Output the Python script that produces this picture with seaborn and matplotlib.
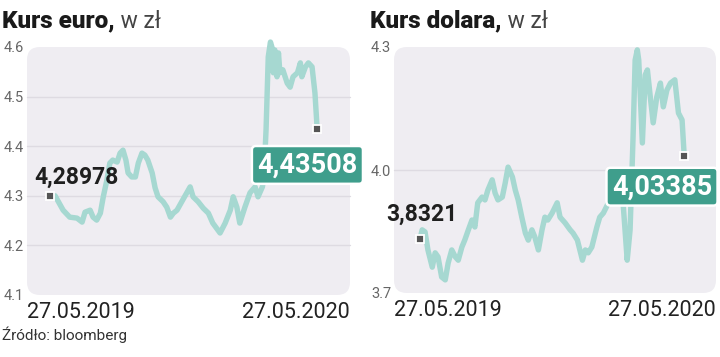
import matplotlib
matplotlib.use("Agg")
import matplotlib.pyplot as plt
from matplotlib.patches import FancyBboxPatch
from matplotlib import font_manager
import seaborn as sns

# ---------------- data ----------------
eur_day = [0, 7, 18, 27, 37, 44, 48, 55, 59, 64, 69, 73, 78, 82, 86, 92, 96, 100, 104, 107,
           112, 117, 121, 126, 130, 134, 140, 144, 148, 155, 160, 165, 169, 174, 182, 192, 196,
           203, 210, 217, 223, 233, 240, 247, 251, 256, 260, 267, 274, 281, 285, 291, 293, 296,
           299, 302, 304, 306, 308, 311, 313, 315, 319, 325, 329, 333, 339, 343, 345, 350, 354,
           359, 363, 366]
eur_rate = [4.300, 4.300, 4.271, 4.257, 4.255, 4.247, 4.267, 4.271, 4.257, 4.251, 4.265, 4.298,
            4.332, 4.366, 4.372, 4.368, 4.386, 4.392, 4.372, 4.346, 4.338, 4.338, 4.366, 4.386,
            4.382, 4.372, 4.346, 4.316, 4.298, 4.288, 4.277, 4.257, 4.265, 4.271, 4.292, 4.318,
            4.298, 4.288, 4.275, 4.265, 4.245, 4.225, 4.245, 4.271, 4.298, 4.277, 4.245, 4.277,
            4.306, 4.318, 4.298, 4.318, 4.336, 4.433, 4.580, 4.610, 4.600, 4.548, 4.594, 4.540,
            4.588, 4.548, 4.554, 4.527, 4.519, 4.540, 4.548, 4.568, 4.540, 4.560, 4.568, 4.560,
            4.507, 4.43508]

usd_day = [0, 3, 7, 11, 17, 21, 25, 30, 35, 39, 44, 49, 53, 58, 62, 67, 72, 76, 80, 86, 90, 94,
           100, 104, 108, 114, 118, 122, 128, 132, 136, 141, 146, 150, 155, 159, 164, 169, 173,
           177, 183, 190, 194, 201, 208, 212, 218, 225, 229, 233, 238, 245, 249, 254, 261, 266,
           273, 277, 281, 287, 291, 295, 298, 301, 303, 308, 312, 315, 319, 323, 328, 333, 337,
           342, 347, 353, 358, 363, 366]
usd_rate = [3.8321, 3.854, 3.849, 3.805, 3.763, 3.798, 3.788, 3.739, 3.732, 3.773, 3.805, 3.788,
            3.780, 3.812, 3.829, 3.854, 3.878, 3.861, 3.920, 3.934, 3.927, 3.951, 3.976, 3.944,
            3.927, 3.934, 3.968, 4.007, 3.983, 3.951, 3.927, 3.885, 3.846, 3.829, 3.854, 3.837,
            3.805, 3.854, 3.885, 3.878, 3.895, 3.920, 3.885, 3.871, 3.854, 3.846, 3.829, 3.780,
            3.805, 3.798, 3.812, 3.861, 3.885, 3.895, 3.920, 3.934, 3.951, 3.963, 3.927, 3.780,
            3.854, 4.073, 4.268, 4.293, 4.268, 4.066, 4.232, 4.244, 4.178, 4.115, 4.178, 4.212,
            4.154, 4.195, 4.212, 4.220, 4.139, 4.122, 4.03385]

eur_ticks = [4.1, 4.2, 4.3, 4.4, 4.5, 4.6]
usd_ticks = [3.7, 4.0, 4.3]
eur_grid = [4.2, 4.3, 4.4, 4.5]
usd_grid = [4.0]
date_labels = ["27.05.2019", "27.05.2020"]
titles = ["Kurs euro,", "Kurs dolara,"]
title_unit = " w zł"
eur_first_label = "4,28978"
usd_first_label = "3,8321"
source = "Źródło: bloomberg"

# ---------------- style ----------------
sns.set_theme(style="white")
names = {f.name for f in font_manager.fontManager.ttflist}
COND = "Liberation Sans Narrow" if "Liberation Sans Narrow" in names else "Roboto"
BASE = "Roboto"
plt.rcParams["font.family"] = [BASE, "DejaVu Sans"]

LINE = "#a6d8d1"
BOX = "#3f9e8c"
BG = "#efedf2"
GRID = "#dedbe2"

fig = plt.figure(figsize=(7.2, 3.57), dpi=100)


def fmt(v):
    return f"{v:.5f}".rstrip("0").replace(".", ",")


def panel(rect, days, rates, yticks, grid, ylim, xlim, title, first_label,
          first_off, last_off, title_x):
    ax = fig.add_axes(rect)
    ax.patch.set_visible(False)
    w_px = rect[2] * 720
    h_px = rect[3] * 357
    bg = FancyBboxPatch((0, 0), 1, 1, transform=ax.transAxes,
                        boxstyle="round,pad=0,rounding_size=0.04",
                        mutation_aspect=w_px / h_px, facecolor=BG,
                        edgecolor="none", zorder=0, clip_on=False)
    ax.add_patch(bg)
    for g in grid:
        ax.axhline(g, color=GRID, lw=1.0, zorder=1)
    sns.lineplot(x=days, y=rates, ax=ax, color=LINE, lw=3.9, zorder=3,
                 solid_capstyle="round", solid_joinstyle="round")
    for l in ax.lines:
        l.set_clip_on(False)
    ax.set_xlim(*xlim)
    ax.set_ylim(*ylim)
    ax.set_yticks(yticks)
    ax.set_yticklabels([f"{t:.1f}" for t in yticks])
    ax.set_xticks([])
    ax.tick_params(axis="y", length=0, pad=2, labelsize=10.5, labelcolor="#666666")
    for s in ax.spines.values():
        s.set_visible(False)
    ax.set_xlabel("")
    ax.set_ylabel("")

    # end-point markers
    for d, r in [(days[0], rates[0]), (days[-1], rates[-1])]:
        ax.plot([d], [r], marker="s", ms=5.5, mfc="#555555", mec="white",
                mew=1.3, zorder=5, clip_on=False)

    ax.annotate(first_label, xy=(days[0], rates[0]), xytext=first_off,
                textcoords="offset points", ha="center", va="center",
                fontsize=16.5, fontweight="bold", color="#1f1f1f",
                family=[COND, "DejaVu Sans"], zorder=6)
    ax.annotate(fmt(rates[-1]), xy=(days[-1], rates[-1]), xytext=last_off,
                textcoords="offset points", ha="center", va="center",
                fontsize=19.5, fontweight="bold", color="white",
                family=[COND, "DejaVu Sans"], zorder=7,
                bbox=dict(boxstyle="round,pad=0.2,rounding_size=0.15",
                          fc=BOX, ec="white", lw=1.8))

    ax.text(0, -0.07, date_labels[0], transform=ax.transAxes, ha="left",
            va="center", fontsize=15.5, color="#222222")
    ax.text(1, -0.07, date_labels[1], transform=ax.transAxes, ha="right",
            va="center", fontsize=15.5, color="#222222")

    t1 = fig.text(title_x, 1 - 21 / 357, title, ha="left", va="center",
                  fontsize=17.5, fontweight="heavy", color="#1a1a1a",
                  family=[COND, "DejaVu Sans"])
    fig.canvas.draw()
    ax.annotate(title_unit, xy=(1, 0.5), xycoords=t1, ha="left", va="center",
                fontsize=16.5, color="#444444")
    return ax


panel([27 / 720, 1 - 295 / 357, 323 / 720, 248 / 357], eur_day, eur_rate,
      eur_ticks, eur_grid, (4.1, 4.6), (-31.5, 411), titles[0],
      eur_first_label, (19, 13), (-7, -26), 2 / 720)
panel([394 / 720, 1 - 293 / 357, 322 / 720, 246 / 357], usd_day, usd_rate,
      usd_ticks, usd_grid, (3.7, 4.3), (-36, 410), titles[1],
      usd_first_label, (1, 18), (-16, -22), 370 / 720)

fig.text(2 / 720, 1 - 335 / 357, source, ha="left", va="center",
         fontsize=11, color="#333333")

fig.savefig("out.png", dpi=100)
